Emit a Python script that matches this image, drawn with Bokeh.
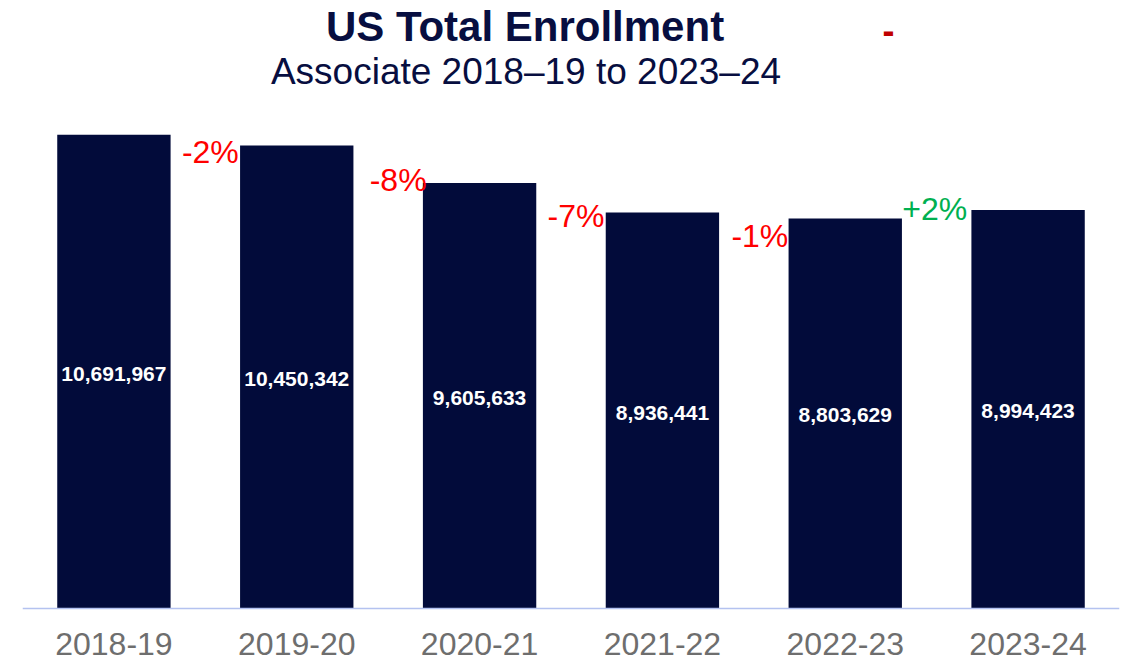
from bokeh.plotting import figure
from bokeh.models import FactorRange, Range1d
from bokeh.core.properties import value
from bokeh.embed import file_html
from bokeh.resources import INLINE

# ---- data ----
years = ["2018-19", "2019-20", "2020-21", "2021-22", "2022-23", "2023-24"]
enrollment = [10691967, 10450342, 9605633, 8936441, 8803629, 8994423]
changes = ["-2%", "-8%", "-7%", "-1%", "+2%"]
title_text = "US Total Enrollment"
subtitle_text = "Associate 2018\u201319 to 2023\u201324"
dash_text = "-"

# ---- styles ----
FONT = value("Liberation Sans")
BAR_COLOR = "#020B3A"
TEXT_DARK = "#070E40"
change_colors = ["#FF0000", "#FF0000", "#FF0000", "#FF0000", "#00B050"]
pct_dx = [5, 10, 5, 6, -2]          # px offset from gap centre
pct_drop = [6, -2.5, 3.5, 18, -1]   # px of text centre below next bar top

W, H = 1128, 662
LEFT, RIGHT = 22, 9
FRAME_W = W - LEFT - RIGHT
BASE = 608                     # canvas y of zero line
U = 22573.0                    # data units per pixel
Y_END = BASE * U
Y_START = -(H - BASE) * U
CAT_PX = FRAME_W / len(years)

def sx(px):
    return (px - LEFT) / CAT_PX

def sy(py):
    return (BASE - py) * U

p = figure(width=W, height=H,
           x_range=FactorRange(factors=years, range_padding=0),
           y_range=Range1d(Y_START, Y_END),
           output_backend="svg", toolbar_location=None,
           y_axis_location=None, min_border=0,
           min_border_left=LEFT, min_border_right=RIGHT,
           min_border_top=0, min_border_bottom=0)
p.outline_line_color = None
p.xgrid.visible = False
p.ygrid.visible = False
p.background_fill_color = "white"
p.border_fill_color = "white"

p.vbar(x=years, top=enrollment, bottom=0, width=0.62,
       fill_color=BAR_COLOR, line_color=None)

ax = p.xaxis[0]
ax.fixed_location = 0
ax.axis_line_color = "#B4C2F0"
ax.axis_line_width = 1.5
ax.major_tick_line_color = None
ax.minor_tick_line_color = None
ax.major_tick_out = 0
ax.major_tick_in = 0
ax.major_label_standoff = 24
ax.major_label_text_font = "Liberation Sans"
ax.major_label_text_font_size = "32px"
ax.major_label_text_color = "#6E6E6E"

# value labels inside bars
p.text(x=years, y=[v / 2 - 2 * U for v in enrollment],
       text=[f"{v:,}" for v in enrollment],
       text_font=FONT, text_font_style="bold", text_font_size="21px",
       text_color="white", text_align="center", text_baseline="middle")

# percentage change labels
px_x = [(i + 1) + pct_dx[i] / CAT_PX for i in range(len(changes))]
px_y = [enrollment[i + 1] - pct_drop[i] * U for i in range(len(changes))]
p.text(x=px_x, y=px_y, text=changes,
       text_font=FONT, text_font_size="32px", text_color=change_colors,
       text_align="center", text_baseline="middle")

# titles
p.text(x=[sx(524.5)], y=[sy(25.5)], text=[title_text],
       text_font=FONT, text_font_style="bold", text_font_size="42px",
       text_color=TEXT_DARK, text_align="center", text_baseline="middle")
p.text(x=[sx(525.5)], y=[sy(71.3)], text=[subtitle_text],
       text_font=FONT, text_font_size="37px",
       text_color=TEXT_DARK, text_align="center", text_baseline="middle")
p.text(x=[sx(888)], y=[sy(29.5)], text=[dash_text],
       text_font=FONT, text_font_style="bold", text_font_size="36px",
       text_color="#C00000", text_align="center", text_baseline="middle")

open("out.html", "w").write(file_html(p, INLINE))
